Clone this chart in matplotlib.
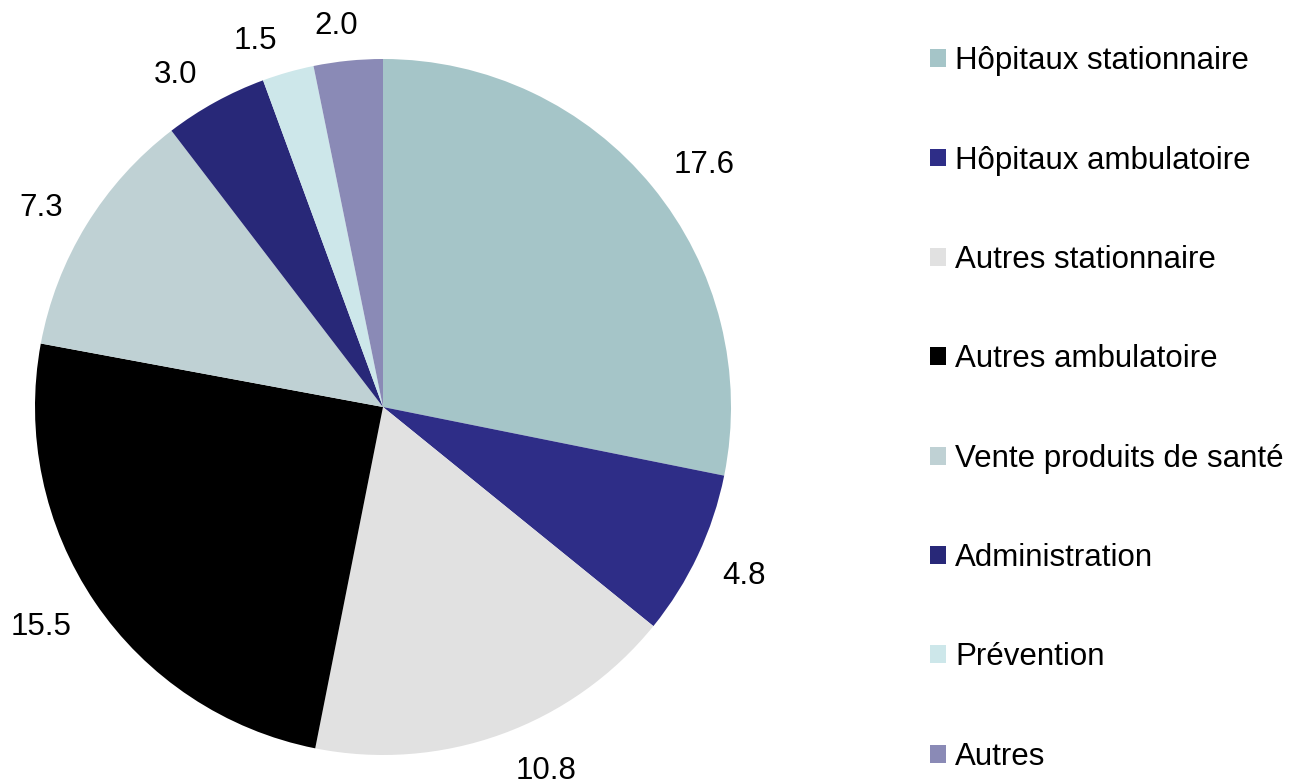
import numpy as np
import matplotlib.pyplot as plt
from matplotlib.patches import Patch

plt.rcParams['font.family'] = ['Liberation Sans', 'DejaVu Sans']

# Parts of spending (reading clockwise from 12 o'clock)
categories = ['Hôpitaux stationnaire', 'Hôpitaux ambulatoire', 'Autres stationnaire',
              'Autres ambulatoire', 'Vente produits de santé', 'Administration',
              'Prévention', 'Autres']
values = [17.6, 4.8, 10.8, 15.5, 7.3, 3.0, 1.5, 2.0]
colors = ['#A5C5C8', '#2E2D87', '#E1E1E1', '#000000', '#BFD1D4', '#282878',
          '#CDE7EA', '#8A8AB6']

W, H = 1293, 784
FS = 22.5
fig = plt.figure(figsize=(W / 100, H / 100), dpi=100)

# pie centre and radius in pixels
cx, cy, r = 383, 407, 348
ax = fig.add_axes([(cx - r) / W, (H - cy - r) / H, 2 * r / W, 2 * r / H])

wedges, _ = ax.pie(values, colors=colors, startangle=90, counterclock=False,
                   wedgeprops={'linewidth': 0})
ax.set_xlim(-1, 1)
ax.set_ylim(-1, 1)
ax.set_aspect('equal')
ax.axis('off')

# value labels just outside the rim, like Excel's "outside end"
# Excel shifts some labels a little along the rim (degrees, ccw positive)
nudge = [-1.9, 0.6, 4.4, -1.7, 0.9, 2.9, 3.2, 1.2]
renderer = fig.canvas.get_renderer()
gap = 25  # px between rim and nearest edge of the label
cap = 0.716 * FS * 100 / 72  # digit height in px
for w, v, dn in zip(wedges, values, nudge):
    ang = np.deg2rad((w.theta1 + w.theta2) / 2 + dn)
    t = ax.text(0, 0, f'{v:.1f}', fontsize=FS, ha='center', va='baseline')
    bw = t.get_window_extent(renderer).width
    c, s = np.cos(ang), np.sin(ang)
    d = r + gap + bw / 2 * abs(c) + cap / 2 * abs(s)
    t.set_position((d / r * c, (d * s - cap / 2) / r))

handles = [Patch(facecolor=c, edgecolor='none') for c in colors]
fig.legend(handles, categories, loc='center left',
           bbox_to_anchor=(930 / W, 1 - 409 / H), frameon=False,
           fontsize=FS, borderpad=0, borderaxespad=0, labelspacing=2.22,
           handlelength=0.5, handleheight=0.5, handletextpad=0.3)

fig.savefig('out.png', dpi=100)
